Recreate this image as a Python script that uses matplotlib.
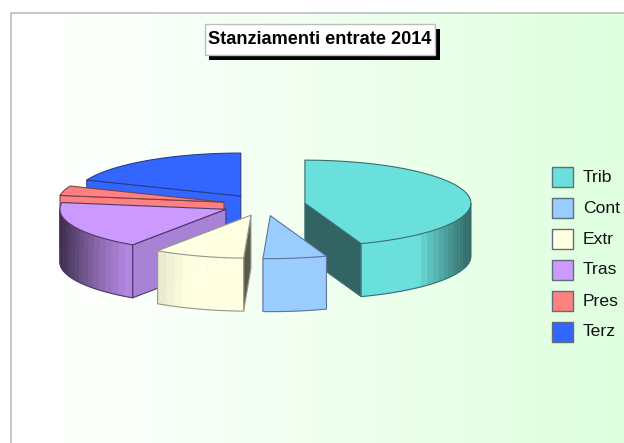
import numpy as np
import matplotlib
matplotlib.use("Agg")
import matplotlib.pyplot as plt
from matplotlib.patches import Polygon, Rectangle

labels = ["Trib", "Cont", "Extr", "Tras", "Pres", "Terz"]
values = [44.5, 6.2, 8.8, 18.0, 3.6, 18.9]
top_colors = ["#6AE0DC", "#99CCFF", "#FFFFE1", "#CC99FF", "#FF8080", "#3366FF"]
side_colors = ["#326464", "#99CCFF", "#5A5A4B", "#A882D4", "#FF8080", "#3366FF"]
edge_colors = ["#3A6E6E", "#60749C", "#96968A", "#50396B", "#7A4048", "#2A3C8C"]
draw_order = ["Terz", "Pres", "Tras", "Trib", "Extr", "Cont"]
title = "Stanziamenti entrate 2014"

W, H = 624, 443
CX, CY, A, B, DEPTH, EXPLODE = 264, 205, 166, 43, 53, 0.25

fig = plt.figure(figsize=(W / 100, H / 100), dpi=100, facecolor="white")
ax = fig.add_axes([0, 0, 1, 1])
ax.set_xlim(0, W)
ax.set_ylim(H, 0)
ax.axis("off")

# background gradient and frame
grad = np.clip((np.linspace(11, W, 256) - 45) / (W - 45), 0, 1)
img = np.ones((1, 256, 3))
img[0, :, 0] = 1 - grad * 0.125
img[0, :, 2] = 1 - grad * 0.125
ax.imshow(img, extent=[11, W, H, 13], aspect="auto", zorder=0, interpolation="bilinear")
ax.set_xlim(0, W)
ax.set_ylim(H, 0)
ax.plot([10.5, 10.5, W], [H, 12.5, 12.5], color="#BDBDBD", lw=1.2, zorder=1)


def pt(ox, oy, deg, drop=0.0):
    t = np.radians(deg)
    return ox + A * np.sin(t), oy - B * np.cos(t) + drop


def shade(rgb, s):
    s = float(s)
    if s >= 0:
        f = 1.0 if s < 0.67 else 1 - 0.55 * (s - 0.67) / 0.33
    else:
        m = -s
        f = 1.0 if m < 0.3 else 1 - 0.72 * ((m - 0.3) / 0.7) ** 2
    return tuple(c * f for c in rgb)


fractions = np.array(values) / sum(values)
ends = np.cumsum(fractions) * 360
starts = ends - fractions * 360
idx = {n: i for i, n in enumerate(labels)}

for name in draw_order:
    i = idx[name]
    a0, a1 = starts[i], ends[i]
    mid = (a0 + a1) / 2
    ox, oy = pt(CX, CY, mid)
    ox = CX + EXPLODE * (ox - CX)
    oy = CY + EXPLODE * (oy - CY)
    z = 2 + draw_order.index(name)
    base = matplotlib.colors.to_rgb(top_colors[i])
    ec = edge_colors[i]

    # visible radial faces
    for ang, normal in ((a0, a0 - 90), (a1, a1 + 90)):
        if np.cos(np.radians(normal)) < -1e-3:
            p0 = (ox, oy)
            p1 = pt(ox, oy, ang)
            poly = [p0, p1, (p1[0], p1[1] + DEPTH), (ox, oy + DEPTH)]
            ax.add_patch(Polygon(poly, closed=True, fc=side_colors[i], ec=ec, lw=0.8,
                                 joinstyle="round", zorder=z))

    # outer wall, front part only, in shaded bands
    w0, w1 = max(a0, 90), min(a1, 270)
    if w1 > w0:
        n = max(2, int((w1 - w0) / 3))
        edges = np.linspace(w0, w1, n + 1)
        for e0, e1 in zip(edges[:-1], edges[1:]):
            q = np.linspace(e0, e1, 4)
            up = [pt(ox, oy, d) for d in q]
            low = [pt(ox, oy, d, DEPTH) for d in q[::-1]]
            col = shade(base, np.sin(np.radians((e0 + e1) / 2)))
            ax.add_patch(Polygon(up + low, closed=True, fc=col, ec=col, lw=0.4, zorder=z))
        q = np.linspace(w0, w1, 60)
        bottom = [pt(ox, oy, d, DEPTH) for d in q]
        ax.add_patch(Polygon([pt(ox, oy, w0)] + bottom + [pt(ox, oy, w1)], closed=False,
                             fill=False, ec=ec, lw=0.8, zorder=z))

    # top surface
    q = np.linspace(a0, a1, 120)
    ax.add_patch(Polygon([(ox, oy)] + [pt(ox, oy, d) for d in q], closed=True,
                         fc=top_colors[i], ec=ec, lw=0.8, joinstyle="round", zorder=z))

# title box
ax.add_patch(Rectangle((209, 29), 231, 31, fc="black", ec="none", zorder=20))
ax.add_patch(Rectangle((205, 24), 230, 31, fc="white", ec="#BDBDBD", lw=1, zorder=21))
ax.text(320, 39.5, title, ha="center", va="center", fontsize=13.1,
        fontweight="bold", family="Liberation Sans", color="black", zorder=22)

# legend
for k, name in enumerate(labels):
    y = 167 + k * 31
    ax.add_patch(Rectangle((552, y), 21, 20, fc=top_colors[k], ec="#5F6E78", lw=1, zorder=20))
    ax.text(583, y + 10, name, ha="left", va="center", fontsize=12.6,
            family="Liberation Sans", color="#111111", zorder=20)

fig.savefig("out.png", dpi=100)
